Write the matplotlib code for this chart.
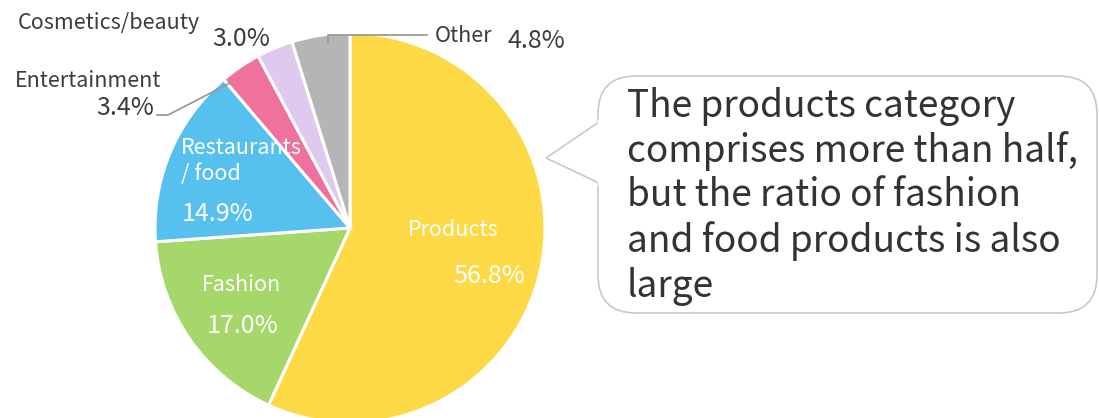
import matplotlib
matplotlib.use("Agg")
import matplotlib.pyplot as plt
from matplotlib.patches import FancyBboxPatch, Polygon

plt.rcParams["font.family"] = ["Noto Sans CJK JP", "DejaVu Sans"]

categories = ["Products", "Fashion", "Restaurants\n/ food", "Entertainment", "Cosmetics/beauty", "Other"]
shares = [56.8, 17.0, 14.9, 3.4, 3.0, 4.8]
colors = ["#FDD945", "#A5D76A", "#56C1EF", "#EE729D", "#DFC9EE", "#B5B5B5"]
callout_lines = [
    "The products category",
    "comprises more than half,",
    "but the ratio of fashion",
    "and food products is also",
    "large",
]

W, H = 1099, 418
TEXT = "#3C3C3C"
LBL = 15.5
PCT = 18


def py(y):
    # pixel row (from top) to data y
    return H - y


fig = plt.figure(figsize=(W / 100, H / 100), dpi=100)
ax = fig.add_axes([0, 0, 1, 1])
ax.pie(shares, colors=colors, startangle=90, counterclock=False,
       center=(350, py(228)), radius=195,
       wedgeprops=dict(edgecolor="white", linewidth=2.2))
ax.set_xlim(0, W)
ax.set_ylim(0, H)
ax.set_aspect("equal")
ax.axis("off")

pct = [f"{v:.1f}%" for v in shares]

# labels inside the pie
ax.text(453, py(230), categories[0], color="white", fontsize=LBL, ha="center", va="center")
ax.text(489, py(276), pct[0], color="white", fontsize=PCT, ha="center", va="center")
ax.text(241, py(285), categories[1], color="white", fontsize=LBL, ha="center", va="center")
ax.text(243, py(326), pct[1], color="white", fontsize=PCT, ha="center", va="center")
ax.text(181, py(161), categories[2], color="white", fontsize=LBL, ha="left", va="center",
        linespacing=1.2)
ax.text(182, py(214), pct[2], color="white", fontsize=PCT, ha="left", va="center")

# labels outside the pie
ax.text(18, py(23), categories[4], color=TEXT, fontsize=LBL, ha="left", va="center")
ax.text(241, py(39), pct[4], color=TEXT, fontsize=PCT, ha="center", va="center")
ax.text(15, py(81), categories[3], color=TEXT, fontsize=LBL, ha="left", va="center")
ax.text(154, py(108), pct[3], color=TEXT, fontsize=PCT, ha="right", va="center")
ax.text(435, py(36), categories[5], color=TEXT, fontsize=LBL, ha="left", va="center")
ax.text(536, py(41), pct[5], color=TEXT, fontsize=PCT, ha="center", va="center")

# leader lines
ax.plot([328, 328, 427], [py(42), py(35), py(35)], color="#9A9A9A", lw=1.3)
ax.plot([157, 168, 232], [py(115), py(115), py(82)], color="#9A9A9A", lw=1.3)

# speech bubble
bubble = FancyBboxPatch((598, py(313)), 499, 237,
                        boxstyle="round,pad=0,rounding_size=38",
                        facecolor="white", edgecolor="#C8C8C8", lw=1.2)
ax.add_patch(bubble)
tail = Polygon([(599, py(122)), (546, py(158)), (599, py(183))], closed=False,
               facecolor="white", edgecolor="#C8C8C8", lw=1.2)
ax.add_patch(tail)
ax.plot([598.6, 598.6], [py(121), py(184)], color="white", lw=2.5)

for i, line in enumerate(callout_lines):
    ax.text(627, py(106 + 45 * i), line, color="#333333", fontsize=26.7,
            ha="left", va="center")

fig.savefig("out.png", dpi=100)
